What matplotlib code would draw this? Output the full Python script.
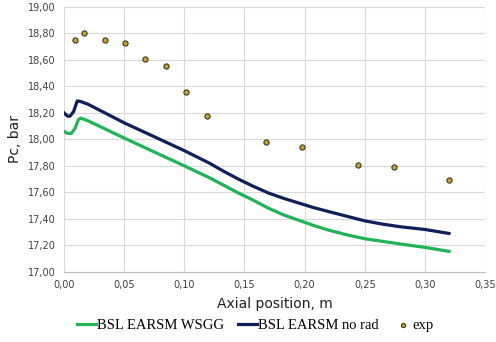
import numpy as np
import matplotlib
matplotlib.use('Agg')
import matplotlib.pyplot as plt
from matplotlib.ticker import FuncFormatter, MultipleLocator

# experimental points
x_exp = [0.009, 0.017, 0.034, 0.051, 0.067, 0.085, 0.101, 0.119, 0.168, 0.198, 0.244, 0.274, 0.320]
y_exp = [18.75, 18.80, 18.75, 18.73, 18.61, 18.55, 18.36, 18.18, 17.98, 17.94, 17.81, 17.79, 17.69]

# BSL EARSM no rad
x_norad = [0, 0.003, 0.005, 0.008, 0.011, 0.014, 0.02, 0.05, 0.10, 0.121, 0.1325, 0.145, 0.1575,
           0.17, 0.1825, 0.195, 0.2075, 0.22, 0.235, 0.25, 0.265, 0.28, 0.30, 0.32]
y_norad = [18.20, 18.175, 18.175, 18.21, 18.29, 18.285, 18.265, 18.125, 17.915, 17.82, 17.76, 17.70, 17.645,
           17.595, 17.555, 17.52, 17.485, 17.455, 17.42, 17.385, 17.36, 17.34, 17.32, 17.29]

# BSL EARSM WSGG
x_wsgg = [0, 0.003, 0.006, 0.009, 0.012, 0.014, 0.02, 0.05, 0.10, 0.121, 0.1325, 0.145, 0.1575,
          0.17, 0.1825, 0.195, 0.2075, 0.22, 0.235, 0.25, 0.265, 0.28, 0.30, 0.32]
y_wsgg = [18.06, 18.045, 18.045, 18.08, 18.15, 18.16, 18.14, 18.01, 17.80, 17.71, 17.655, 17.595, 17.54,
          17.48, 17.43, 17.39, 17.35, 17.315, 17.28, 17.25, 17.23, 17.21, 17.185, 17.155]

fig = plt.figure(figsize=(4.96, 3.42), dpi=100)
ax = fig.add_axes([0.129, 0.205, 0.849, 0.775])

ax.plot(x_wsgg, y_wsgg, color='#1fb455', lw=2.3, label='BSL EARSM WSGG', solid_joinstyle='round')
ax.plot(x_norad, y_norad, color='#0e1f5b', lw=2.3, label='BSL EARSM no rad', solid_joinstyle='round')
ax.scatter(x_exp, y_exp, s=14, color='#c9a22c', edgecolors='#3a3a20', linewidths=0.8, zorder=3, label='exp')

ax.set_xlim(0, 0.35)
ax.set_ylim(17.0, 19.0)
ax.xaxis.set_major_locator(MultipleLocator(0.05))
ax.yaxis.set_major_locator(MultipleLocator(0.2))
ax.xaxis.set_major_formatter(FuncFormatter(lambda v, p: f'{v:.2f}'.replace('.', ',')))
ax.yaxis.set_major_formatter(FuncFormatter(lambda v, p: f'{v:.2f}'.replace('.', ',')))
ax.grid(True, color='#d9d9d9', lw=0.8)
ax.set_axisbelow(True)
for s in ['top', 'right', 'left']:
    ax.spines[s].set_visible(False)
ax.spines['bottom'].set_color('#bfbfbf')
ax.tick_params(length=0, labelsize=7, colors='#404040', pad=6)

ax.set_xlabel('Axial position, m', fontsize=10, color='#202020', labelpad=5)
ax.set_ylabel('Pc, bar', fontsize=10, color='#202020', labelpad=4)

fig.legend(loc='lower center', bbox_to_anchor=(0.515, -0.01), ncol=3, frameon=False,
           prop={'family': 'Liberation Serif', 'size': 10.5}, handlelength=1.3,
           handletextpad=0.05, columnspacing=1.0, markerscale=0.8)

fig.savefig('out.png', dpi=100)
